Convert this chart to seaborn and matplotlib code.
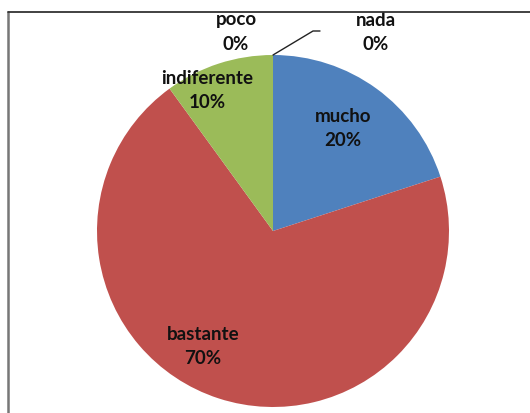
import matplotlib
matplotlib.use("Agg")
import matplotlib.pyplot as plt
from matplotlib.lines import Line2D
import seaborn as sns
import numpy as np

categories = ["mucho", "bastante", "indiferente", "poco", "nada"]
values = [20, 70, 10, 0, 0]
colors = ["#4F81BD", "#C0504D", "#9BBB59", "#8064A2", "#4BACC6"]

sns.set_style("white")
plt.rcParams['font.family'] = ['Lato', 'DejaVu Sans']

W, H = 530, 413
fig = plt.figure(figsize=(W / 100, H / 100), dpi=100)
cx, cy, r = 273, 231, 176
ax = fig.add_axes([(cx - r) / W, (H - cy - r) / H, 2 * r / W, 2 * r / H])
ax.pie(values, colors=colors, startangle=90, counterclock=False,
       wedgeprops=dict(linewidth=0), radius=1.0)
ax.set_xlim(-1, 1)
ax.set_ylim(-1, 1)
ax.set_aspect("equal")
ax.axis("off")

def to_data(px, py):
    return (px - cx) / r, (cy - py) / r

label_px = {
    "mucho": (343, 128),
    "bastante": (203, 346),
    "indiferente": (207, 90),
    "poco": (236, 32),
    "nada": (376, 32),
}
for cat, val in zip(categories, values):
    x, y = to_data(*label_px[cat])
    ax.text(x, y, f"{cat}\n{val}%", ha="center", va="center", fontsize=13.5,
            fontweight="bold", color="#111111", linespacing=1.5, clip_on=False)

# leader line for "nada"
p0 = to_data(273, 55)
p1 = to_data(313, 31)
p2 = to_data(320, 31)
ax.plot([p0[0], p1[0], p2[0]], [p0[1], p1[1], p2[1]], color="#222222", lw=1, clip_on=False)

# chart frame (top and left edges visible)
fig.add_artist(Line2D([8 / W, 8 / W], [0, 1 - 12 / H], transform=fig.transFigure,
                      color="#777777", lw=1.8))
fig.add_artist(Line2D([8 / W, 1], [1 - 12 / H, 1 - 12 / H], transform=fig.transFigure,
                      color="#333333", lw=1.3))

fig.savefig("out.png", dpi=100, facecolor="white")
